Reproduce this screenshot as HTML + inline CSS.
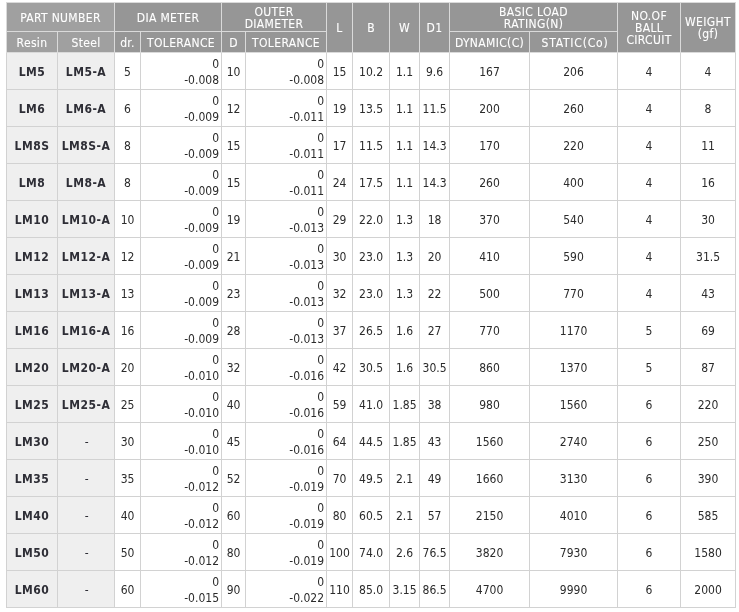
<!DOCTYPE html><html><head><meta charset="utf-8"><title>LM Linear Bushing Specifications</title><style>
html,body{margin:0;padding:0;background:#fff;}
body{width:739px;height:612px;overflow:hidden;position:relative;}
table{position:absolute;left:6px;top:2px;border-collapse:separate;border-spacing:1px;background:#d2d2d2;
 table-layout:fixed;width:730px;font-family:"DejaVu Sans Condensed","DejaVu Sans","Liberation Sans",sans-serif;font-size:12px;}
td,th{padding:0;overflow:hidden;white-space:nowrap;}
th{background:#969696;color:#fff;font-weight:normal;line-height:12px;text-align:center;padding-top:2px;letter-spacing:0.35px;-webkit-text-stroke:0.1px #fff;}
th.q{background:#a0a0a0;}
th{box-shadow:0 0 0 1px #dadada;}
th.r{padding-top:0;}
tr.h1{height:28px;} tr.h2{height:20px;}
tr.b{height:36px;}
td{background:#fff;color:#2b2b2b;text-align:center;line-height:14px;padding-top:2px;}
td.p{background:#efefef;font-weight:bold;color:#2e2e36;letter-spacing:0.5px;}
td.n{font-weight:normal;}
td.t{text-align:right;padding-right:2px;line-height:16px;}
</style></head><body>
<table>
<colgroup><col style="width:50px"><col style="width:56px"><col style="width:25px"><col style="width:80px"><col style="width:23px"><col style="width:80px"><col style="width:25px"><col style="width:36px"><col style="width:29px"><col style="width:29px"><col style="width:79px"><col style="width:87px"><col style="width:62px"><col style="width:54px"></colgroup>
<tr class="h1"><th class="q" colspan="2">PART NUMBER</th><th colspan="2">DIA METER</th><th colspan="2">OUTER<br>DIAMETER</th><th class="r" rowspan="2">L</th><th class="r" rowspan="2">B</th><th class="r" rowspan="2">W</th><th class="r" rowspan="2">D1</th><th colspan="2">BASIC LOAD<br>RATING(N)</th><th class="r" rowspan="2">NO.OF<br>BALL<br>CIRCUIT</th><th class="r" rowspan="2">WEIGHT<br>(gf)</th></tr>
<tr class="h2"><th class="q">Resin</th><th class="q">Steel</th><th>dr.</th><th>TOLERANCE</th><th>D</th><th>TOLERANCE</th><th>DYNAMIC(C)</th><th style="letter-spacing:0.8px;padding-left:3px">STATIC(Co)</th></tr>
<tr class="b"><td class="p">LM5</td><td class="p">LM5-A</td><td>5</td><td class="t">0<br>-0.008</td><td>10</td><td class="t">0<br>-0.008</td><td>15</td><td>10.2</td><td>1.1</td><td>9.6</td><td>167</td><td>206</td><td>4</td><td>4</td></tr>
<tr class="b"><td class="p">LM6</td><td class="p">LM6-A</td><td>6</td><td class="t">0<br>-0.009</td><td>12</td><td class="t">0<br>-0.011</td><td>19</td><td>13.5</td><td>1.1</td><td>11.5</td><td>200</td><td>260</td><td>4</td><td>8</td></tr>
<tr class="b"><td class="p">LM8S</td><td class="p">LM8S-A</td><td>8</td><td class="t">0<br>-0.009</td><td>15</td><td class="t">0<br>-0.011</td><td>17</td><td>11.5</td><td>1.1</td><td>14.3</td><td>170</td><td>220</td><td>4</td><td>11</td></tr>
<tr class="b"><td class="p">LM8</td><td class="p">LM8-A</td><td>8</td><td class="t">0<br>-0.009</td><td>15</td><td class="t">0<br>-0.011</td><td>24</td><td>17.5</td><td>1.1</td><td>14.3</td><td>260</td><td>400</td><td>4</td><td>16</td></tr>
<tr class="b"><td class="p">LM10</td><td class="p">LM10-A</td><td>10</td><td class="t">0<br>-0.009</td><td>19</td><td class="t">0<br>-0.013</td><td>29</td><td>22.0</td><td>1.3</td><td>18</td><td>370</td><td>540</td><td>4</td><td>30</td></tr>
<tr class="b"><td class="p">LM12</td><td class="p">LM12-A</td><td>12</td><td class="t">0<br>-0.009</td><td>21</td><td class="t">0<br>-0.013</td><td>30</td><td>23.0</td><td>1.3</td><td>20</td><td>410</td><td>590</td><td>4</td><td>31.5</td></tr>
<tr class="b"><td class="p">LM13</td><td class="p">LM13-A</td><td>13</td><td class="t">0<br>-0.009</td><td>23</td><td class="t">0<br>-0.013</td><td>32</td><td>23.0</td><td>1.3</td><td>22</td><td>500</td><td>770</td><td>4</td><td>43</td></tr>
<tr class="b"><td class="p">LM16</td><td class="p">LM16-A</td><td>16</td><td class="t">0<br>-0.009</td><td>28</td><td class="t">0<br>-0.013</td><td>37</td><td>26.5</td><td>1.6</td><td>27</td><td>770</td><td>1170</td><td>5</td><td>69</td></tr>
<tr class="b"><td class="p">LM20</td><td class="p">LM20-A</td><td>20</td><td class="t">0<br>-0.010</td><td>32</td><td class="t">0<br>-0.016</td><td>42</td><td>30.5</td><td>1.6</td><td>30.5</td><td>860</td><td>1370</td><td>5</td><td>87</td></tr>
<tr class="b"><td class="p">LM25</td><td class="p">LM25-A</td><td>25</td><td class="t">0<br>-0.010</td><td>40</td><td class="t">0<br>-0.016</td><td>59</td><td>41.0</td><td>1.85</td><td>38</td><td>980</td><td>1560</td><td>6</td><td>220</td></tr>
<tr class="b"><td class="p">LM30</td><td class="p n" style="padding-left:2px">-</td><td>30</td><td class="t">0<br>-0.010</td><td>45</td><td class="t">0<br>-0.016</td><td>64</td><td>44.5</td><td>1.85</td><td>43</td><td>1560</td><td>2740</td><td>6</td><td>250</td></tr>
<tr class="b"><td class="p">LM35</td><td class="p n" style="padding-left:2px">-</td><td>35</td><td class="t">0<br>-0.012</td><td>52</td><td class="t">0<br>-0.019</td><td>70</td><td>49.5</td><td>2.1</td><td>49</td><td>1660</td><td>3130</td><td>6</td><td>390</td></tr>
<tr class="b"><td class="p">LM40</td><td class="p n" style="padding-left:2px">-</td><td>40</td><td class="t">0<br>-0.012</td><td>60</td><td class="t">0<br>-0.019</td><td>80</td><td>60.5</td><td>2.1</td><td>57</td><td>2150</td><td>4010</td><td>6</td><td>585</td></tr>
<tr class="b"><td class="p">LM50</td><td class="p n" style="padding-left:2px">-</td><td>50</td><td class="t">0<br>-0.012</td><td>80</td><td class="t">0<br>-0.019</td><td>100</td><td>74.0</td><td>2.6</td><td>76.5</td><td>3820</td><td>7930</td><td>6</td><td>1580</td></tr>
<tr class="b"><td class="p">LM60</td><td class="p n" style="padding-left:2px">-</td><td>60</td><td class="t">0<br>-0.015</td><td>90</td><td class="t">0<br>-0.022</td><td>110</td><td>85.0</td><td>3.15</td><td>86.5</td><td>4700</td><td>9990</td><td>6</td><td>2000</td></tr>
</table></body></html>
